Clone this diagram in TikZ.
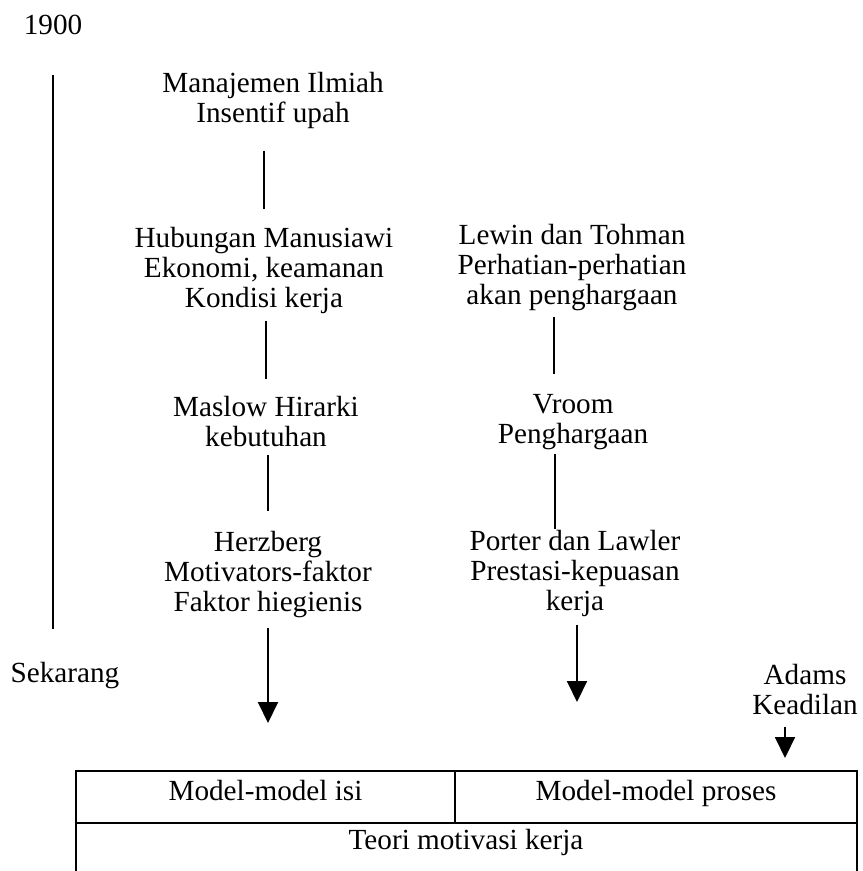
\documentclass[tikz,border=0pt]{standalone}
\usepackage{fontspec}
\setmainfont{Liberation Serif}
\usetikzlibrary{arrows.meta}
\begin{document}
\begin{tikzpicture}[x=0.5pt,y=-0.5pt,
  txt/.style={font=\fontsize{14.6}{15}\selectfont, align=center, inner sep=0pt},
  conn/.style={line width=1pt},
  arr/.style={line width=1pt, -{Triangle[length=10.5pt,width=10pt]}},
  boxline/.style={line width=0.9pt}]
\useasboundingbox (0,0) rectangle (862,871);
\fill[white] (0,0) rectangle (862,871);
% texts
\node[txt] (y1900) at (53,25) {1900};
\node[txt] (sek) at (65,676) {Sekarang};
\node[txt] (mi) at (273,100) {Manajemen Ilmiah\\Insentif upah};
\node[txt] (hm) at (264,270) {Hubungan Manusiawi\\Ekonomi, keamanan\\Kondisi kerja};
\node[txt] (ms) at (266,422) {Maslow Hirarki\\kebutuhan};
\node[txt] (hz) at (268,575) {Herzberg\\Motivators-faktor\\Faktor hiegienis};
\node[txt] (lw) at (572,268) {Lewin dan Tohman\\Perhatian-perhatian\\akan penghargaan};
\node[txt] (vr) at (573,422) {Vroom\\Penghargaan};
\node[txt] (pl) at (575,573) {Porter dan Lawler\\Prestasi-kepuasan\\kerja};
\node[txt] (ad) at (805,690) {Adams\\Keadilan};
% arrow ends
\coordinate (hzend) at (268,723);
\coordinate (plend) at (577,702);
\coordinate (adend) at (785,758);
% timeline
\draw[conn, shorten <=20pt, shorten >=16.5pt] (y1900.south) -- (y1900.south |- sek.north);
% left column
\draw[conn, shorten <=11pt, shorten >=8.5pt] (mi.south -| hm.north) -- (hm.north);
\draw[conn, shorten <=3.5pt, shorten >=8.5pt] (hm.south -| ms.north) -- (ms.north);
\draw[conn, shorten <=3.5pt, shorten >=10pt] (ms.south -| hz.north) -- (hz.north);
\draw[arr, shorten <=4.5pt] (hz.south -| hzend) -- (hzend);
% right column
\draw[conn, shorten <=2.5pt, shorten >=10pt] ([xshift=-9pt]lw.south) -- ([xshift=-9pt]lw.south |- vr.north);
\draw[conn, shorten <=2pt] ([xshift=-9pt]vr.south) -- ([xshift=-9pt]vr.south |- pl.north);
\draw[arr, shorten <=4pt] (pl.south -| plend) -- (plend);
\draw[arr, shorten <=5.5pt] (ad.south -| adend) -- (adend);
% box
\draw[boxline] (76,871) -- (76,771) -- (857,771) -- (857,871);
\draw[boxline] (76,823) -- (857,823);
\draw[boxline] (455,771) -- (455,823);
\node[txt, anchor=base] (isi) at (265.5,800) {Model-model isi};
\node[txt, anchor=base] (proses) at (656,800) {Model-model proses};
\node[txt] (teori) at (466,842) {Teori motivasi kerja};
\end{tikzpicture}
\end{document}
